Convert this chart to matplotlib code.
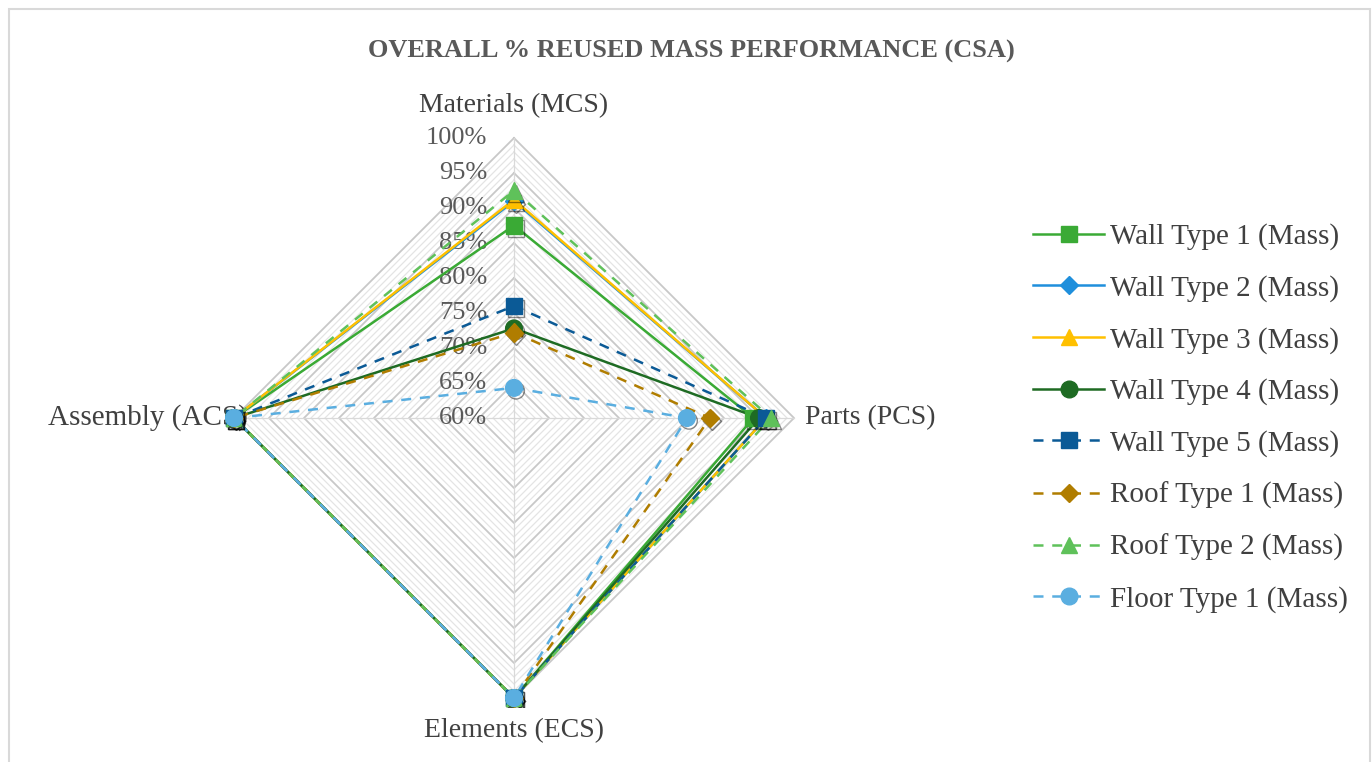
import numpy as np
import matplotlib
matplotlib.use('Agg')
import matplotlib.pyplot as plt
import matplotlib.patheffects as pe
from matplotlib.patches import Rectangle
from matplotlib.lines import Line2D

plt.rcParams['font.family'] = ['Liberation Serif', 'DejaVu Serif']

# axes of the radar, clockwise from top
categories = ['Materials (MCS)', 'Parts (PCS)', 'Elements (ECS)', 'Assembly (ACS)']

series = ['Wall Type 1 (Mass)', 'Wall Type 2 (Mass)', 'Wall Type 3 (Mass)', 'Wall Type 4 (Mass)',
          'Wall Type 5 (Mass)', 'Roof Type 1 (Mass)', 'Roof Type 2 (Mass)', 'Floor Type 1 (Mass)']

wall1 = [87.5, 94.2, 100, 100]
wall2 = [91.0, 96.0, 100, 100]
wall3 = [91.2, 96.0, 100, 100]
wall4 = [72.8, 95.0, 100, 100]
wall5 = [76.0, 96.0, 100, 100]
roof1 = [72.2, 88.0, 100, 100]
roof2 = [92.5, 96.7, 100, 100]
floor1 = [64.3, 84.7, 100, 100]
values = [wall1, wall2, wall3, wall4, wall5, roof1, roof2, floor1]

colors = ['#3aaa35', '#1f8fdc', '#ffc000', '#1e6b23', '#0b5a96', '#b07d00', '#5fc15a', '#5aaee0']
markers = ['s', 'D', '^', 'o', 's', 'D', '^', 'o']
styles = ['-', '-', '-', '-', '--', '--', '--', '--']

tick_vals = [60, 65, 70, 75, 80, 85, 90, 95, 100]
rmin, rmax = 60, 100

angles = np.pi / 2 - np.arange(4) * np.pi / 2


def to_xy(vals):
    r = (np.array(vals, dtype=float) - rmin) / (rmax - rmin)
    return r * np.cos(angles), r * np.sin(angles)


fig = plt.figure(figsize=(13.72, 7.62), dpi=100)
ax = fig.add_axes([(514 - 290) / 1372, (762 - 418 - 290) / 762, 580 / 1372, 580 / 762])
ax.set_xlim(-290 / 280, 290 / 280)
ax.set_ylim(-290 / 280, 290 / 280)
ax.axis('off')

# grid: minor every 1%, major every 5%
for g in range(rmin + 1, rmax + 1):
    gx, gy = to_xy([g] * 4)
    major = (g % 5 == 0)
    ax.plot(np.append(gx, gx[0]), np.append(gy, gy[0]),
            color='#c8c8c8' if major else '#e4e4e4', lw=1.3 if major else 0.9, zorder=1)
for a in angles:
    ax.plot([0, np.cos(a)], [0, np.sin(a)], color='#d9d9d9', lw=0.9, zorder=1)

# tick labels along top spoke
for t in tick_vals:
    r = (t - rmin) / (rmax - rmin)
    ax.text(-0.095, r, f'{t}%', ha='right', va='center', fontsize=19, color='#595959', zorder=2)

shadow = [pe.SimpleLineShadow(offset=(1.5, -2), alpha=0.45, shadow_color='black'), pe.Normal()]
handles = []
for name, vals, c, m, ls in zip(series, values, colors, markers, styles):
    x, y = to_xy(vals)
    ms = 12 if m != 'D' else 9.5
    dash = (4, 3.5) if ls == '--' else None
    line, = ax.plot(np.append(x, x[0]), np.append(y, y[0]), color=c, lw=1.8, zorder=3)
    if dash:
        line.set_dashes(dash)
    ax.plot(x, y, ls='none', marker=m, markersize=ms, markerfacecolor=c, markeredgecolor=c,
            path_effects=shadow, zorder=4)
    h = Line2D([], [], color=c, lw=1.8, marker=m, markersize=ms, markerfacecolor=c, markeredgecolor=c)
    if dash:
        h.set_dashes(dash)
    handles.append(h)

# category labels
ax.text(0, 1.115, categories[0], ha='center', va='center', fontsize=20, color='#404040')
ax.text(1.04, 0, categories[1], ha='left', va='center', fontsize=20, color='#404040')
ax.text(0, -1.115, categories[2], ha='center', va='center', fontsize=20, color='#404040')
ax.text(-0.95, 0, categories[3], ha='right', va='center', fontsize=21, color='#404040', zorder=2)

fig.text(691 / 1372, 1 - 51 / 762, 'OVERALL % REUSED MASS PERFORMANCE (CSA)', ha='center', va='center',
         fontsize=19, fontweight='bold', color='#595959')

fig.legend(handles, series, loc='center left', bbox_to_anchor=(1033 / 1372, 1 - 418 / 762),
           frameon=False, fontsize=21, labelcolor='#404040', handlelength=2.45,
           handletextpad=0.2, labelspacing=0.85, borderaxespad=0, borderpad=0)

fig.patches.append(Rectangle((9 / 1372, -0.05), 1361 / 1372, 1.05 - 9 / 762, transform=fig.transFigure,
                             fill=False, edgecolor='#d9d9d9', lw=1.5))

fig.savefig('out.png', dpi=100, facecolor='white')
